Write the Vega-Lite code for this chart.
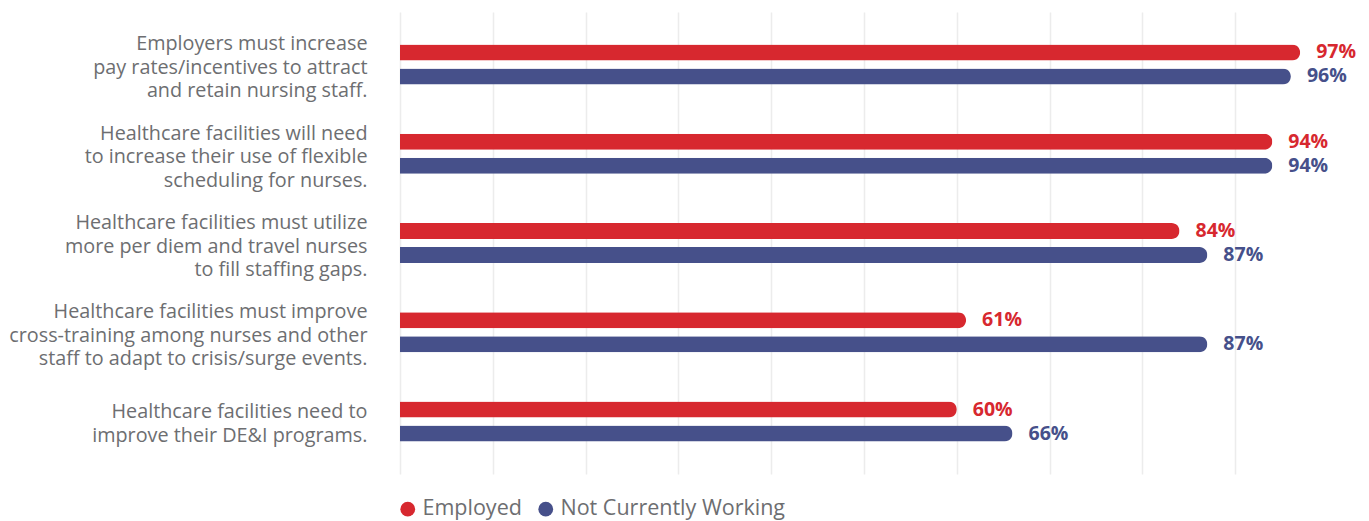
{
  "$schema": "https://vega.github.io/schema/vega-lite/v6.json",
  "width": 928,
  "height": 462,
  "autosize": {"type": "none"},
  "padding": {"left": 400, "top": 12, "right": 41, "bottom": 47},
  "background": "white",
  "data": {"values": [
    {"statement": "Employers must increase|pay rates/incentives to attract|and retain nursing staff.", "group": "Employed", "value": 0.97},
    {"statement": "Employers must increase|pay rates/incentives to attract|and retain nursing staff.", "group": "Not Currently Working", "value": 0.96},
    {"statement": "Healthcare facilities will need|to increase their use of flexible|scheduling for nurses.", "group": "Employed", "value": 0.94},
    {"statement": "Healthcare facilities will need|to increase their use of flexible|scheduling for nurses.", "group": "Not Currently Working", "value": 0.94},
    {"statement": "Healthcare facilities must utilize|more per diem and travel nurses|to fill staffing gaps.", "group": "Employed", "value": 0.84},
    {"statement": "Healthcare facilities must utilize|more per diem and travel nurses|to fill staffing gaps.", "group": "Not Currently Working", "value": 0.87},
    {"statement": "Healthcare facilities must improve|cross-training among nurses and other|staff to adapt to crisis/surge events.", "group": "Employed", "value": 0.61},
    {"statement": "Healthcare facilities must improve|cross-training among nurses and other|staff to adapt to crisis/surge events.", "group": "Not Currently Working", "value": 0.87},
    {"statement": "Healthcare facilities need to|improve their DE&I programs.", "group": "Employed", "value": 0.60},
    {"statement": "Healthcare facilities need to|improve their DE&I programs.", "group": "Not Currently Working", "value": 0.66}
  ]},
  "encoding": {
    "y": {
      "field": "statement", "type": "nominal", "sort": null,
      "scale": {"paddingInner": 0.45, "paddingOuter": 0.312},
      "axis": {"title": null, "labelExpr": "split(datum.label, '|')", "labelFontSize": 19.8, "labelColor": "#6d6e71", "labelPadding": 33, "ticks": false, "domain": false, "labelLineHeight": 23.5, "labelFont": "Open Sans", "labelLimit": 400,
        "labelOffset": {"condition": {"test": "length(split(datum.value, '|')) == 2", "value": -9.5}, "value": -20}}
    },
    "yOffset": {
      "field": "group", "type": "nominal", "sort": ["Employed", "Not Currently Working"],
      "scale": {"paddingInner": 0.333, "paddingOuter": 0.19}
    },
    "x": {
      "field": "value", "type": "quantitative",
      "scale": {"domain": [0, 1], "nice": false},
      "axis": {"title": null, "values": [0, 0.1, 0.2, 0.3, 0.4, 0.5, 0.6, 0.7, 0.8, 0.9], "labels": false, "ticks": false, "domain": false, "gridColor": "#ececec", "gridWidth": 1.5}
    },
    "color": {
      "field": "group", "type": "nominal",
      "scale": {"domain": ["Employed", "Not Currently Working"], "range": ["#d7282f", "#46508a"]},
      "legend": {"title": null, "orient": "none", "legendX": -3, "legendY": 486, "direction": "horizontal", "symbolType": "circle", "symbolSize": 220, "symbolStrokeWidth": 0, "labelFontSize": 21.5, "labelFont": "Open Sans", "labelColor": "#6d6e71", "labelOffset": 4, "columnPadding": 13, "labelLimit": 400}
    }
  },
  "layer": [
    {"mark": {"type": "bar", "cornerRadiusEnd": 8}},
    {"mark": {"type": "text", "align": "left", "baseline": "middle", "dx": 16, "fontWeight": "bold", "fontSize": 19.5, "font": "Open Sans"},
     "encoding": {"text": {"field": "value", "type": "quantitative", "format": ".0%"}}}
  ],
  "config": {"view": {"stroke": null}}
}
